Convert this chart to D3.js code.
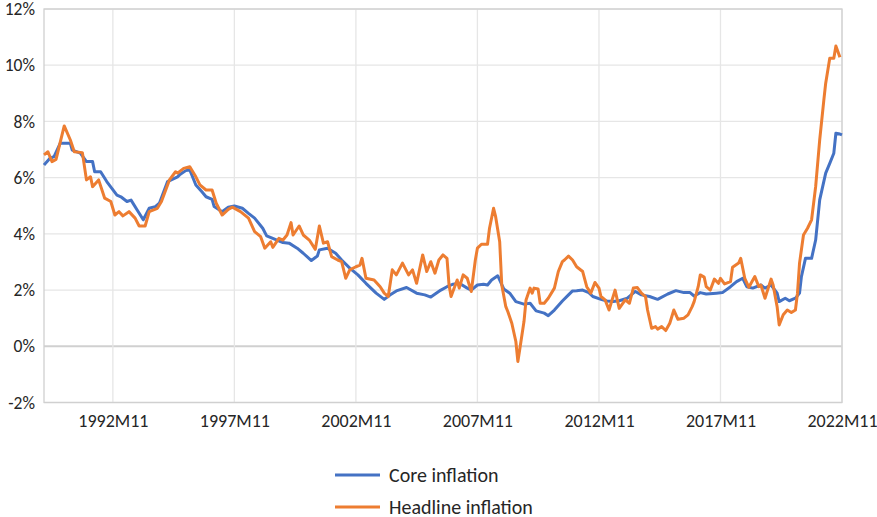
<!DOCTYPE html>
<html>
<head>
<meta charset="utf-8">
<script src="https://cdn.jsdelivr.net/npm/d3@7"></script>
<style>
  body { margin: 0; background: #fff; }
  svg text { font-family: Carlito, Calibri, Lato, sans-serif; fill: #262626; }
</style>
</head>
<body>
<div id="canvas"></div>
<script>
// months, values in %
const coreMonths = ["1990M1","1990M4","1990M6","1990M9","1991M2","1991M3","1991M7","1991M10","1992M1","1992M2","1992M5","1992M8","1993M1","1993M3","1993M6","1993M8","1993M11","1994M2","1994M5","1994M8","1994M10","1995M2","1995M7","1995M8","1995M11","1996M1","1996M4","1996M7","1996M9","1996M12","1997M1","1997M5","1997M8","1997M11","1998M3","1998M6","1998M9","1999M1","1999M3","1999M6","1999M11","2000M2","2000M6","2000M9","2001M1","2001M4","2001M5","2001M9","2002M1","2002M4","2002M8","2002M12","2003M4","2003M9","2004M1","2004M4","2004M7","2004M12","2005M5","2005M9","2005M12","2006M5","2006M8","2006M11","2007M2","2007M6","2007M8","2007M11","2008M2","2008M4","2008M6","2008M9","2008M12","2009M3","2009M6","2009M10","2010M1","2010M4","2010M8","2010M10","2011M1","2011M5","2011M8","2011M10","2011M12","2012M3","2012M6","2012M8","2012M12","2013M3","2013M6","2013M9","2014M1","2014M5","2014M8","2014M12","2015M4","2015M9","2016M1","2016M5","2016M8","2016M10","2017M1","2017M4","2017M9","2017M12","2018M4","2018M7","2018M10","2018M12","2019M3","2019M7","2019M9","2019M12","2020M3","2020M4","2020M7","2020M9","2020M12","2021M2","2021M3","2021M5","2021M8","2021M10","2021M12","2022M3","2022M5","2022M7","2022M8","2022M10","2022M11"];
const coreValues = [6.45,6.69,6.75,7.22,7.22,6.98,6.87,6.57,6.57,6.21,6.21,5.86,5.38,5.32,5.15,5.2,4.85,4.5,4.91,4.97,5.09,5.86,6.03,6.1,6.25,6.27,5.74,5.5,5.32,5.23,4.97,4.79,4.95,4.99,4.91,4.73,4.56,4.2,3.93,3.84,3.69,3.67,3.49,3.31,3.05,3.21,3.43,3.49,3.31,3.07,2.78,2.54,2.24,1.89,1.67,1.83,1.97,2.09,1.89,1.83,1.75,2.0,2.12,2.21,2.24,2.07,2.0,2.18,2.21,2.18,2.36,2.51,2.04,1.89,1.59,1.5,1.53,1.26,1.18,1.09,1.29,1.61,1.83,1.97,1.98,2.0,1.91,1.77,1.67,1.61,1.59,1.62,1.71,1.95,1.83,1.77,1.67,1.86,1.98,1.91,1.91,1.79,1.91,1.86,1.89,1.91,2.12,2.3,2.42,2.12,2.07,2.18,2.07,2.18,1.89,1.59,1.71,1.62,1.71,1.89,2.48,3.13,3.13,3.78,5.21,6.16,6.51,6.87,7.58,7.55,7.52];

const headMonths = ["1990M1","1990M3","1990M5","1990M7","1990M11","1991M2","1991M4","1991M8","1991M10","1991M12","1992M1","1992M4","1992M7","1992M10","1992M12","1993M2","1993M4","1993M7","1993M10","1993M12","1994M3","1994M5","1994M9","1994M11","1995M3","1995M6","1995M7","1995M10","1996M1","1996M4","1996M6","1996M9","1996M12","1997M2","1997M5","1997M8","1997M10","1998M2","1998M6","1998M9","1998M12","1999M2","1999M5","1999M6","1999M9","1999M11","2000M1","2000M3","2000M4","2000M7","2000M9","2000M12","2001M3","2001M5","2001M7","2001M9","2001M11","2002M2","2002M4","2002M6","2002M8","2002M11","2003M1","2003M2","2003M4","2003M8","2003M11","2004M1","2004M3","2004M5","2004M7","2004M10","2005M1","2005M3","2005M5","2005M8","2005M10","2005M12","2006M2","2006M4","2006M6","2006M8","2006M9","2006M10","2007M1","2007M2","2007M4","2007M6","2007M8","2007M10","2007M11","2008M1","2008M4","2008M5","2008M7","2008M8","2008M10","2008M11","2009M1","2009M2","2009M4","2009M6","2009M7","2009M8","2009M10","2009M11","2010M1","2010M2","2010M3","2010M5","2010M6","2010M8","2010M10","2011M1","2011M3","2011M5","2011M6","2011M8","2011M10","2011M12","2012M3","2012M5","2012M7","2012M9","2012M11","2012M12","2013M2","2013M4","2013M7","2013M9","2013M12","2014M2","2014M4","2014M6","2014M8","2014M10","2014M11","2015M1","2015M3","2015M4","2015M6","2015M8","2015M10","2015M12","2016M2","2016M5","2016M7","2016M9","2016M10","2016M12","2017M1","2017M3","2017M4","2017M6","2017M8","2017M10","2017M11","2018M1","2018M4","2018M5","2018M8","2018M9","2018M11","2019M1","2019M4","2019M6","2019M7","2019M9","2019M12","2020M1","2020M3","2020M4","2020M6","2020M8","2020M10","2020M12","2021M1","2021M2","2021M4","2021M6","2021M8","2021M10","2021M12","2022M2","2022M3","2022M5","2022M7","2022M8","2022M10"];
const headValues = [6.81,6.92,6.57,6.65,7.84,7.34,6.92,6.89,5.92,6.03,5.68,5.92,5.27,5.15,4.67,4.79,4.64,4.79,4.56,4.28,4.28,4.79,4.91,5.15,5.92,6.21,6.16,6.33,6.39,6.03,5.74,5.56,5.56,5.09,4.67,4.87,4.95,4.79,4.56,4.08,3.9,3.49,3.72,3.52,3.84,3.78,3.96,4.4,3.96,4.28,3.96,3.78,3.45,4.28,3.67,3.72,3.19,3.07,3.01,2.42,2.72,2.83,2.89,3.13,2.42,2.36,2.12,1.89,1.77,2.72,2.54,2.96,2.54,2.72,2.24,3.25,2.66,3.01,2.6,3.07,3.25,3.13,2.18,1.77,2.36,2.07,2.54,2.42,1.95,3.07,3.49,3.63,3.63,4.2,4.91,4.61,3.72,2.18,1.41,1.23,0.82,0.17,-0.54,-0.07,0.88,1.65,2.07,1.89,2.07,2.04,1.53,1.53,1.71,2.07,2.66,3.01,3.07,3.21,3.07,2.83,2.66,2.12,1.89,2.27,2.07,1.77,1.65,1.29,2.0,1.35,1.65,1.53,2.07,2.09,1.89,1.77,1.29,0.64,0.7,0.61,0.7,0.56,0.82,1.29,0.96,1.0,1.12,1.41,1.59,2.12,2.54,2.46,2.12,2.0,2.39,2.24,2.42,2.22,2.3,2.81,2.96,3.13,2.42,2.1,2.48,2.12,2.18,1.71,2.39,2.18,1.41,0.76,1.12,1.29,1.2,1.29,1.89,2.96,3.96,4.2,4.5,5.68,7.34,8.76,9.36,10.25,10.25,10.68,10.28];

const xTickLabels = ["1992M11","1997M11","2002M11","2007M11","2012M11","2017M11","2022M11"];
const yTicks = [-2, 0, 2, 4, 6, 8, 10, 12];
const seriesNames = ["Core inflation", "Headline inflation"];

const parseM = s => {
  const [yr, m] = s.split("M");
  return new Date(+yr, +m - 1, 1);
};

const width = 877, height = 517;
const plotLeft = 44, plotRight = 842, plotTop = 9, plotBottom = 402.5;
const colors = ["#4472C4", "#ED7D31"];

const svg = d3.select("#canvas")
  .append("svg")
    .attr("width", width)
    .attr("height", height);

const x = d3.scaleTime()
  .domain([parseM("1990M1"), parseM("2022M11")])
  .range([plotLeft, plotRight]);

const y = d3.scaleLinear()
  .domain([-2, 12])
  .range([plotBottom, plotTop]);

// gridlines
svg.append("g")
  .selectAll("line")
  .data(yTicks)
  .enter()
  .append("line")
    .attr("x1", plotLeft).attr("x2", plotRight)
    .attr("y1", d => y(d)).attr("y2", d => y(d))
    .attr("stroke", d => d === 0 ? "#d0d0d0" : "#e6e6e6")
    .attr("stroke-width", d => d === 0 ? 2 : 1.3);

svg.append("g")
  .selectAll("line")
  .data(xTickLabels)
  .enter()
  .append("line")
    .attr("x1", d => x(parseM(d))).attr("x2", d => x(parseM(d)))
    .attr("y1", plotTop).attr("y2", plotBottom)
    .attr("stroke", "#e6e6e6")
    .attr("stroke-width", 1.3);

// plot border
svg.append("rect")
  .attr("x", plotLeft).attr("y", plotTop)
  .attr("width", plotRight - plotLeft).attr("height", plotBottom - plotTop)
  .attr("fill", "none")
  .attr("stroke", "#d0d0d0")
  .attr("stroke-width", 1.3);

// axes labels
const yAxis = d3.axisLeft(y)
  .tickValues(yTicks)
  .tickSize(0)
  .tickPadding(9)
  .tickFormat(d => d + "%");

svg.append("g")
  .attr("transform", `translate(${plotLeft},0)`)
  .call(yAxis)
  .call(g => g.select(".domain").remove())
  .selectAll("text")
    .style("font-size", "17.5px")
    .attr("fill", "#262626");

const xAxis = d3.axisBottom(x)
  .tickValues(xTickLabels.map(parseM))
  .tickSize(0)
  .tickPadding(12)
  .tickFormat(d => d.getFullYear() + "M" + (d.getMonth() + 1));

svg.append("g")
  .attr("transform", `translate(0,${plotBottom})`)
  .call(xAxis)
  .call(g => g.select(".domain").remove())
  .selectAll("text")
    .style("font-size", "18px")
    .attr("fill", "#262626");

// lines
const line = d3.line()
  .x(d => x(d.date))
  .y(d => y(d.value));

const core = coreMonths.map((m, i) => ({date: parseM(m), value: coreValues[i]}));
const head = headMonths.map((m, i) => ({date: parseM(m), value: headValues[i]}));

[core, head].forEach((data, i) => {
  svg.append("path")
    .datum(data)
    .attr("fill", "none")
    .attr("stroke", colors[i])
    .attr("stroke-width", 3)
    .attr("stroke-linejoin", "round")
    .attr("d", line);
});

// legend
const legend = svg.append("g")
  .selectAll("g")
  .data(seriesNames)
  .enter()
  .append("g")
    .attr("transform", (d, i) => `translate(335,${475 + i * 32})`);

legend.append("line")
  .attr("x1", 0).attr("x2", 45)
  .attr("stroke", (d, i) => colors[i])
  .attr("stroke-width", 3);

legend.append("text")
  .attr("x", 54)
  .attr("dy", "0.35em")
  .style("font-size", "20px")
  .attr("fill", "#262626")
  .text(d => d);
</script>
</body>
</html>
